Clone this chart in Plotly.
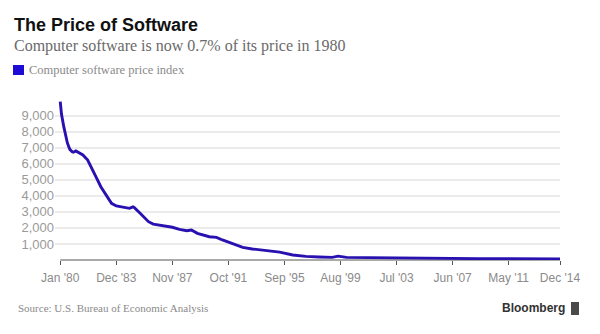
import plotly.graph_objects as go

# ---- data ----
dates = ["1980-01-01", "1980-02-01", "1980-04-01", "1980-05-01", "1980-07-01", "1980-08-01",
         "1980-09-01", "1980-11-01", "1980-12-01", "1981-02-01", "1981-04-01", "1981-08-01",
         "1981-12-01", "1982-03-01", "1982-07-01", "1982-11-01", "1983-04-01", "1983-08-01",
         "1983-12-01", "1984-06-01", "1984-11-01", "1985-02-01", "1985-03-01", "1985-08-01",
         "1986-03-01", "1986-07-01", "1986-12-01", "1987-06-01", "1987-11-01", "1988-05-01",
         "1988-11-01", "1989-03-01", "1989-08-01", "1990-06-01", "1990-12-01", "1991-05-01",
         "1992-02-01", "1992-10-01", "1993-06-01", "1994-06-01", "1995-05-01", "1996-04-01",
         "1997-03-01", "1998-02-01", "1999-01-01", "1999-06-01", "2000-01-01", "2001-08-01",
         "2003-03-01", "2005-02-01", "2007-03-01", "2009-04-01", "2011-05-01", "2013-07-01",
         "2014-12-01"]
values = [9870, 9100, 8300, 7900, 7300, 7100,
          6900, 6750, 6720, 6800, 6710, 6550,
          6230, 5820, 5190, 4570, 3950, 3530,
          3370, 3290, 3220, 3310, 3280, 2910,
          2390, 2240, 2180, 2080, 2040, 1910,
          1830, 1870, 1660, 1450, 1410, 1250,
          980, 790, 690, 580, 490, 310,
          225, 190, 165, 240, 165, 150,
          130, 110, 95, 85, 78, 72,
          68]

tick_dates = ["1980-01-01", "1983-12-01", "1987-11-01", "1991-10-01", "1995-09-01",
              "1999-08-01", "2003-07-01", "2007-06-01", "2011-05-01", "2014-12-01"]
tick_labels = ["Jan '80", "Dec '83", "Nov '87", "Oct '91", "Sep '95",
               "Aug '99", "Jul '03", "Jun '07", "May '11", "Dec '14"]
y_ticks = [1000, 2000, 3000, 4000, 5000, 6000, 7000, 8000, 9000]
y_labels = ["1,000", "2,000", "3,000", "4,000", "5,000", "6,000", "7,000", "8,000", "9,000"]

series_name = "Computer software price index"
title = "The Price of Software"
subtitle = "Computer software is now 0.7% of its price in 1980"
source = "Source: U.S. Bureau of Economic Analysis"

LINE = "#2811b0"
SQUARE = "#1d0bd6"

W, H = 600, 334
L, R, T, B = 55, 40, 95, 74
PW, PH = W - L - R, H - T - B


def px(x):
    return (x - L) / PW


def py(y):
    return (H - B - y) / PH


fig = go.Figure()
fig.add_trace(go.Scatter(x=dates, y=values, mode="lines",
                         line=dict(color=LINE, width=2.9), name=series_name,
                         showlegend=False, hoverinfo="skip"))

fig.update_layout(
    width=W, height=H,
    margin=dict(l=L, r=R, t=T, b=B),
    paper_bgcolor="white", plot_bgcolor="white",
    showlegend=False,
    xaxis=dict(
        type="date",
        range=["1979-08-20", "2014-12-01"],
        tickvals=tick_dates, ticktext=tick_labels,
        showgrid=False, zeroline=False,
        showline=False,
        ticks="outside", ticklen=4, tickcolor="#555555", tickwidth=1,
        ticklabelstandoff=3,
        tickfont=dict(family="Liberation Sans, Arial", size=12, color="#8a8a8a"),
    ),
    yaxis=dict(
        range=[0, 10290],
        tickvals=y_ticks, ticktext=y_labels,
        showgrid=True, gridcolor="#ebebeb", gridwidth=1.5,
        zeroline=False, showline=False, ticks="",
        tickfont=dict(family="Liberation Sans, Arial", size=13, color="#9a9a9a"),
    ),
    shapes=[
        dict(type="line", xref="x", yref="paper", x0=tick_dates[0], x1=tick_dates[-1],
             y0=0, y1=0, line=dict(color="#555555", width=1.2), layer="below"),
        dict(type="rect", xref="paper", yref="paper", x0=px(13), x1=px(24),
             y0=py(75), y1=py(65), fillcolor=SQUARE, line=dict(width=0)),
        dict(type="rect", xref="paper", yref="paper", x0=px(571), x1=px(579),
             y0=py(315), y1=py(302), fillcolor="#4a4a4a", line=dict(width=0)),
    ],
    annotations=[
        dict(text=f"<b>{title}</b>", xref="paper", yref="paper", x=px(12), y=py(25),
             xanchor="left", yanchor="middle", showarrow=False,
             font=dict(family="Liberation Sans, Arial", size=18, color="#111111")),
        dict(text=subtitle, xref="paper", yref="paper", x=px(12), y=py(46),
             xanchor="left", yanchor="middle", showarrow=False,
             font=dict(family="Liberation Serif, Times New Roman", size=16, color="#6a6a6a")),
        dict(text=series_name, xref="paper", yref="paper", x=px(27), y=py(70),
             xanchor="left", yanchor="middle", showarrow=False,
             font=dict(family="Liberation Serif, Times New Roman", size=12.5, color="#8a8a8a")),
        dict(text=source, xref="paper", yref="paper", x=px(16), y=py(308),
             xanchor="left", yanchor="middle", showarrow=False,
             font=dict(family="Liberation Serif, Times New Roman", size=11, color="#8a8a8a")),
        dict(text="<b>Bloomberg</b>", xref="paper", yref="paper", x=px(567), y=py(308),
             xanchor="right", yanchor="middle", showarrow=False,
             font=dict(family="Liberation Sans, Arial", size=12, color="#333333")),
    ],
)

fig.write_html("out.html")
